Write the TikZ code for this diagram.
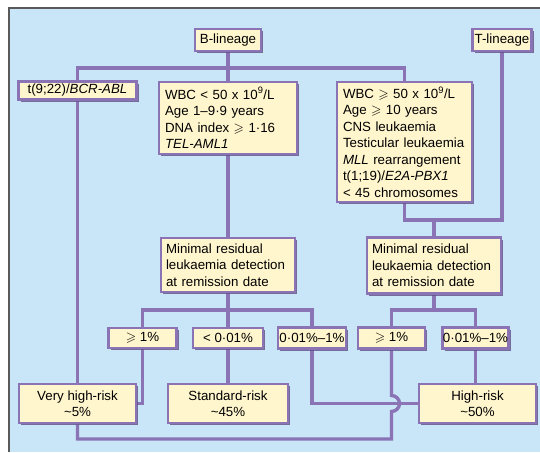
\documentclass[tikz,border=0pt]{standalone}
\usepackage{fontspec}
\setmainfont{Liberation Sans}
\usepackage{amssymb}
\usetikzlibrary{shadows}
\pgfdeclarelayer{bgzero}
\pgfdeclarelayer{background}
\pgfsetlayers{bgzero,background,main}
\definecolor{bgB}{HTML}{C9E6F8}
\definecolor{boxF}{HTML}{FFF6CE}
\definecolor{lineP}{HTML}{8B74B6}
\definecolor{shadP}{HTML}{5F4F86}
\definecolor{frameG}{HTML}{5A5A5A}
\begin{document}
\begin{tikzpicture}[x=1pt,y=-1pt,
  font=\fontsize{13.3}{16.5}\selectfont,
  box/.style={draw=lineP,line width=2.9pt,fill=boxF,inner sep=0pt,
    drop shadow={shadow xshift=2pt,shadow yshift=-2pt,fill=shadP,opacity=0.8}},
  conn/.style={draw=lineP,line width=3.4pt}]
\useasboundingbox (0,0) rectangle (540,452);
\begin{pgfonlayer}{bgzero}
  \fill[white] (0,0) rectangle (540,452);
  \fill[bgB] (9,8) rectangle (540,452);
  \draw[frameG,line width=1.2pt] (9,452) -- (9,8) -- (540,8);
\end{pgfonlayer}

% nodes
\node[box,minimum width=66,minimum height=22] (Bl) at (228,40) {B-lineage};
\node[box,minimum width=59,minimum height=22] (Tl) at (502,40) {T-lineage};
\node[box,minimum width=118,minimum height=18] (t922) at (77.5,90.5) {t(9;22)/\textit{BCR-ABL}};
\node[box,minimum width=138,minimum height=72,text width=126,align=left] (WBClt) at (228,118)
  {WBC < 50 x 10\textsuperscript{9}/L\\Age 1–9·9 years\\DNA index $\geqslant$ 1·16\\\textit{TEL-AML1}};
\node[box,minimum width=135,minimum height=120,text width=123,align=left] (WBCge) at (404.5,142)
  {WBC $\geqslant$ 50 x 10\textsuperscript{9}/L\\Age $\geqslant$ 10 years\\CNS leukaemia\\Testicular leukaemia\\\textit{MLL} rearrangement\\t(1;19)/\textit{E2A-PBX1}\\< 45 chromosomes};
\node[box,minimum width=134,minimum height=54,text width=124,align=left] (MRDL) at (228,265)
  {Minimal residual\\leukaemia detection\\at remission date};
\node[box,minimum width=134,minimum height=56,text width=124,align=left] (MRDR) at (434,265.5)
  {Minimal residual\\leukaemia detection\\at remission date};
\node[box,minimum width=68,minimum height=20] (ge1L) at (142.5,338) {$\geqslant$ 1\%};
\node[box,minimum width=70,minimum height=20] (lt001) at (228,338) {< 0·01\%};
\node[box,minimum width=68,minimum height=21] (mid1L) at (312,338) {0·01\%–1\%};
\node[box,minimum width=67,minimum height=21] (ge1R) at (391.5,338) {$\geqslant$ 1\%};
\node[box,minimum width=66,minimum height=21] (mid1R) at (475.5,338) {0·01\%–1\%};
\node[box,minimum width=117,minimum height=39,align=center] (VHR) at (77.5,403.5) {Very high-risk\\\textasciitilde5\%};
\node[box,minimum width=120,minimum height=39,align=center] (SR) at (228,403.5) {Standard-risk\\\textasciitilde45\%};
\node[box,minimum width=117,minimum height=39,align=center] (HR) at (477.5,403.5) {High-risk\\\textasciitilde50\%};

\coordinate (jB) at (228,68);
\coordinate (jT) at (434,220);
\coordinate (jL) at (228,310);
\coordinate (jR) at (434,310);

\begin{pgfonlayer}{background}
  \draw[conn] (Bl.south) -- (jB);
  \draw[conn] (t922.north) |- (jB) -| (WBCge.north);
  \draw[conn] (jB) -- (WBClt.north);
  \draw[conn] (WBClt.south) -- (MRDL.north);
  \draw[conn] (WBCge.south) |- (jT) -| (Tl.south);
  \draw[conn] (jT) -- (MRDR.north);
  \draw[conn] (MRDL.south) -- (jL);
  \draw[conn] (ge1L.north) |- (jL) -| (mid1L.north);
  \draw[conn] (jL) -- (lt001.north);
  \draw[conn] (MRDR.south) -- (jR);
  \draw[conn] (ge1R.north) |- (jR) -| (mid1R.north);
  \draw[conn] (ge1L.south) |- (VHR.east);
  \draw[conn] (lt001.south) -- (SR.north);
  \draw[conn] (mid1L.south) |- (HR.west);
  \draw[conn] (mid1R.south) -- (mid1R.south |- HR.north);
  \draw[conn] (t922.south) -- (VHR.north);
  \draw[conn] (ge1R.south) -- (ge1R.south |- 0,395.5)
     arc[start angle=90,end angle=-90,radius=8pt]
     -- (ge1R.south |- 0,439) -| (VHR.south);
\end{pgfonlayer}
\end{tikzpicture}
\end{document}
